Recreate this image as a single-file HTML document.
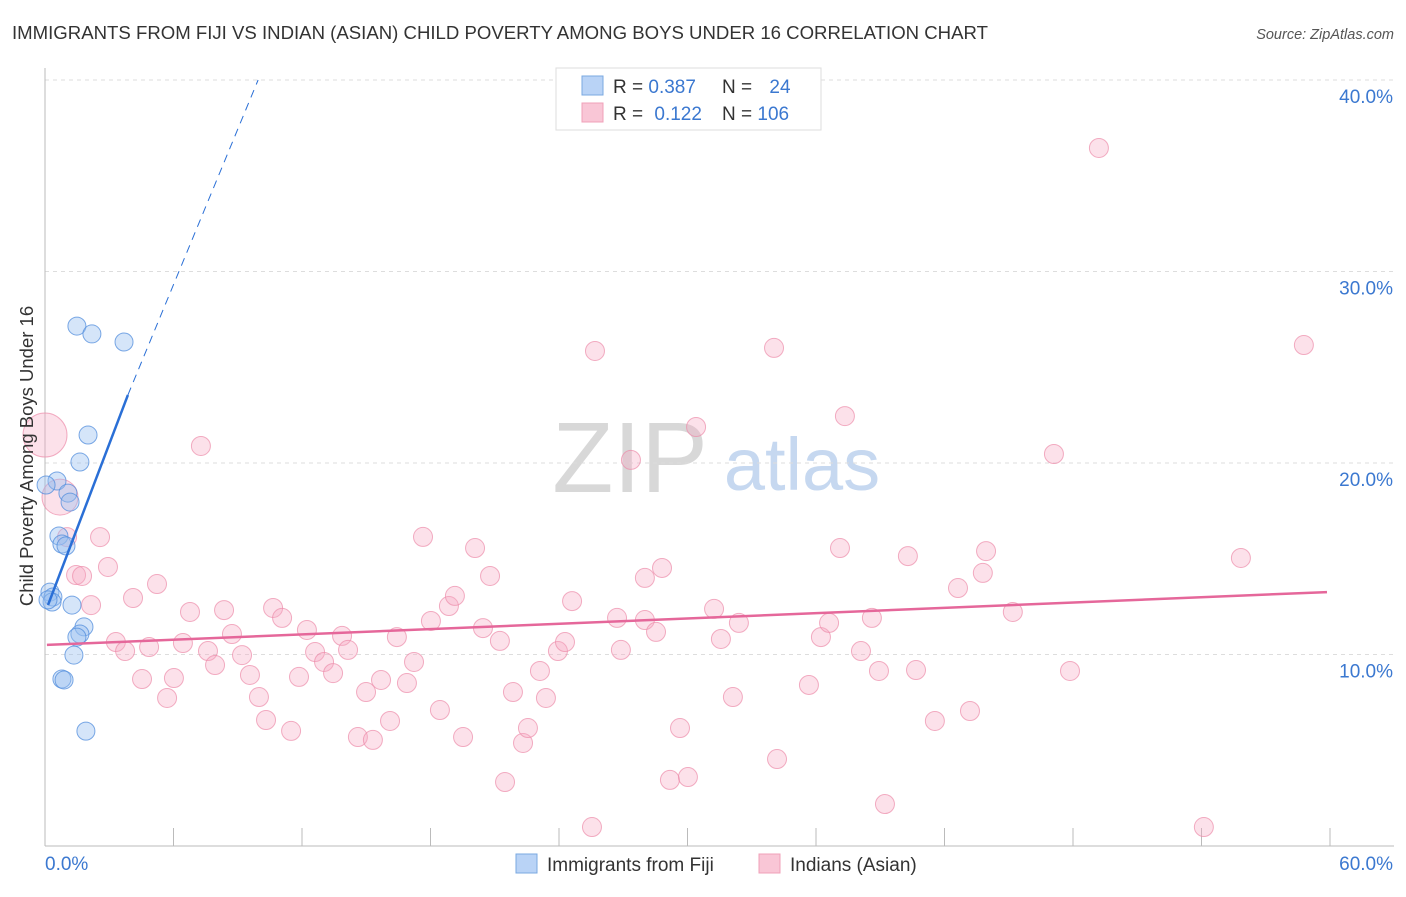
<!DOCTYPE html>
<html><head><meta charset="utf-8"><style>
body{margin:0;background:#fff;font-family:"Liberation Sans",sans-serif}
svg text{font-family:"Liberation Sans",sans-serif}
</style></head><body>
<svg id="chart" width="1406" height="892" viewBox="0 0 1406 892" xmlns="http://www.w3.org/2000/svg">
<text x="12" y="39" font-size="18.6" fill="#333">IMMIGRANTS FROM FIJI VS INDIAN (ASIAN) CHILD POVERTY AMONG BOYS UNDER 16 CORRELATION CHART</text>
<text x="1394" y="39" font-size="14.5" fill="#555" font-style="italic" text-anchor="end">Source: ZipAtlas.com</text>
<g>
<text x="630" y="492" font-size="100" fill="#d8d8d8" text-anchor="middle" font-family="Liberation Serif, serif">ZIP</text>
<text x="802" y="490" font-size="74" fill="#c6d8f0" text-anchor="middle">atlas</text>
</g>
<g id="grid"></g>
<g id="axes"></g>
<g id="marks"></g>
<text transform="translate(33,456) rotate(-90)" font-size="18.5" fill="#333" text-anchor="middle">Child Poverty Among Boys Under 16</text>
<g>
<rect x="556" y="68" width="265" height="62" fill="#fff" stroke="#ddd"/>
<rect x="582" y="76" width="21" height="19" fill="#b9d3f6" stroke="#7aa8e0"/>
<rect x="582" y="103" width="21" height="19" fill="#f9c6d6" stroke="#f0a0b8"/>
<text x="613" y="93" font-size="19" fill="#333">R = <tspan fill="#3b78d0">0.387</tspan></text>
<text x="722" y="93" font-size="19" fill="#333">N = <tspan fill="#3b78d0" dx="12">24</tspan></text>
<text x="613" y="120" font-size="19" fill="#333">R = <tspan fill="#3b78d0" dx="6">0.122</tspan></text>
<text x="722" y="120" font-size="19" fill="#333">N = <tspan fill="#3b78d0">106</tspan></text>
</g>
<g>
<rect x="516" y="854" width="21" height="19" fill="#b9d3f6" stroke="#7aa8e0"/>
<text x="547" y="871" font-size="19" fill="#333">Immigrants from Fiji</text>
<rect x="759" y="854" width="21" height="19" fill="#f9c6d6" stroke="#f0a0b8"/>
<text x="790" y="871" font-size="19" fill="#333">Indians (Asian)</text>
</g>
</svg>
<script>
const fijiX=[1.49,2.19,3.69,2.01,1.63,0.56,0.05,1.07,1.17,0.65,0.79,0.98,0.23,0.37,0.33,1.26,1.82,1.63,1.49,1.35,0.79,0.89,1.91,0.14];
const fijiY=[27.15,26.74,26.32,21.46,20.05,19.06,18.85,18.43,17.96,16.19,15.77,15.67,13.26,13.0,12.74,12.58,11.44,11.07,10.91,9.97,8.72,8.67,6.0,12.85];
const indX=[0.0,0.70,1.03,1.45,1.73,2.57,2.94,2.15,3.31,3.74,4.11,4.53,4.86,5.23,5.70,6.02,6.44,6.77,7.28,7.61,7.94,8.36,8.73,9.20,9.57,9.99,10.32,10.65,11.07,11.49,11.86,12.23,12.61,13.03,13.45,13.87,14.15,14.61,14.99,15.31,15.69,16.11,16.43,16.90,17.23,17.65,18.02,18.44,18.86,19.14,19.52,20.08,20.45,20.78,21.24,21.48,21.85,22.32,22.55,23.11,23.39,23.95,24.28,24.61,25.54,25.68,26.71,26.89,27.36,28.01,28.01,28.53,28.81,29.18,29.65,30.02,30.40,31.24,31.56,32.12,32.40,34.04,34.18,35.67,36.23,36.61,37.12,37.35,38.10,38.61,38.94,39.22,40.29,40.67,41.55,42.63,43.19,43.79,43.94,45.19,47.11,47.86,49.21,54.11,55.84,58.78];
const indY=[21.46,18.22,16.13,14.15,14.10,16.13,14.57,12.58,10.65,10.18,12.95,8.72,10.39,13.68,7.73,8.77,10.60,12.22,20.89,10.18,9.45,12.32,11.07,9.97,8.93,7.78,6.58,12.43,11.91,6.01,8.83,11.28,10.13,9.61,9.03,10.97,10.24,5.69,8.04,5.54,8.67,6.53,10.91,8.51,9.61,16.14,11.75,7.10,12.53,13.06,5.69,15.56,11.38,14.10,10.71,3.34,8.04,5.38,6.16,9.14,7.73,10.18,10.65,12.79,0.99,25.85,11.91,10.24,20.16,14.0,11.80,11.18,14.52,3.45,6.16,3.60,21.88,12.38,10.81,7.78,11.65,26.01,4.54,8.41,10.91,11.65,15.56,22.45,10.18,11.91,9.14,2.19,15.14,9.19,6.53,13.47,7.05,14.26,15.40,12.22,20.47,9.14,36.45,0.99,15.04,26.16];
const indR=[22,18];
const fijiTrendX=[0.14,3.87,9.95];
const fijiTrendY=[12.58,23.55,40.0];
const indTrendX=[0.09,59.86];
const indTrendY=[10.50,13.26];
const yTicks=[10,20,30,40];
const yTickLabels=["10.0%","20.0%","30.0%","40.0%"];
const xTicks=[0,6,12,18,24,30,36,42,48,54,60];

const X=v=>45+v*1285/60;
const Y=v=>846-v*19.15;
const NS="http://www.w3.org/2000/svg";
function mk(tag,attrs,parent){const e=document.createElementNS(NS,tag);for(const k in attrs)e.setAttribute(k,attrs[k]);parent.appendChild(e);return e;}
const grid=document.getElementById('grid'),axes=document.getElementById('axes'),marks=document.getElementById('marks');
yTicks.forEach((t,i)=>{
  const l=mk('line',{x1:45,x2:1394,y1:Y(t),y2:Y(t),stroke:'#ddd','stroke-dasharray':'4,4'},grid);
  
  
  const tx=mk('text',{x:1393,y:Y(t)+23,'font-size':19,fill:'#3b78d0','text-anchor':'end'},axes);
  tx.textContent=yTickLabels[i];
  
  
});
let a=mk('line',{x1:45,x2:45,y1:68,y2:846,stroke:'#bbb'},axes);


a=mk('line',{x1:45,x2:1394,y1:846,y2:846,stroke:'#bbb'},axes);


xTicks.forEach(t=>{
  const l=mk('line',{x1:X(t),x2:X(t),y1:828,y2:846,stroke:'#bbb'},axes);
  
  
});
let t0=mk('text',{x:45,y:870,'font-size':19,fill:'#3b78d0'},axes);t0.textContent='0.0%';


let t1=mk('text',{x:1393,y:870,'font-size':19,fill:'#3b78d0','text-anchor':'end'},axes);t1.textContent='60.0%';



indX.forEach((x,i)=>{
  const r=i<indR.length?indR[i]:9.5;
  const c=mk('circle',{cx:X(x),cy:Y(indY[i]),r:r,fill:'rgba(246,170,196,0.35)',stroke:'rgba(236,140,170,0.7)','stroke-width':1},marks);
  
  
});
fijiX.forEach((x,i)=>{
  const c=mk('circle',{cx:X(x),cy:Y(fijiY[i]),r:9,fill:'rgba(150,190,240,0.4)',stroke:'rgba(80,140,220,0.75)','stroke-width':1},marks);
  
  
});
let tl=mk('line',{x1:X(fijiTrendX[0]),y1:Y(fijiTrendY[0]),x2:X(fijiTrendX[1]),y2:Y(fijiTrendY[1]),stroke:'#2a6fd6','stroke-width':2.5},marks);


tl=mk('line',{x1:X(fijiTrendX[1]),y1:Y(fijiTrendY[1]),x2:X(fijiTrendX[2]),y2:Y(fijiTrendY[2]),stroke:'#2a6fd6','stroke-width':1,'stroke-dasharray':'8,6'},marks);


tl=mk('line',{x1:X(indTrendX[0]),y1:Y(indTrendY[0]),x2:X(indTrendX[1]),y2:Y(indTrendY[1]),stroke:'#e5679a','stroke-width':2.5},marks);


</script>
</body></html>
